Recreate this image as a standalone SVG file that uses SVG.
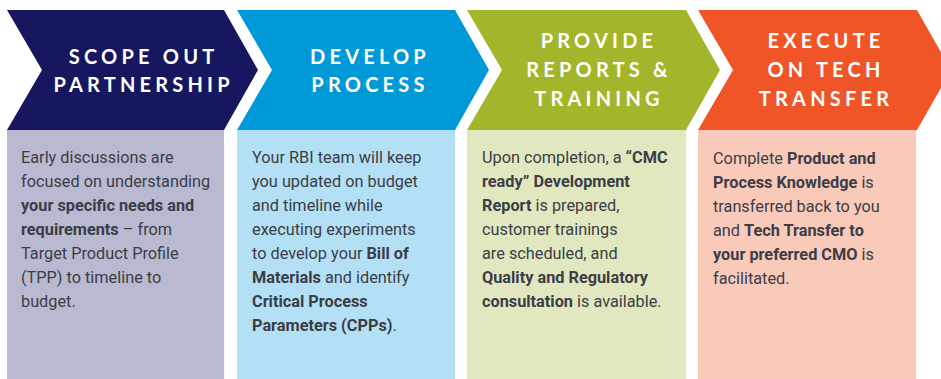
<svg xmlns="http://www.w3.org/2000/svg" width="941" height="379" viewBox="0 0 941 379">
<style>
.hd{font-family:Lato,"Liberation Sans",sans-serif;font-weight:700;font-size:20px;fill:#ffffff;letter-spacing:4.2px;text-anchor:middle}
.bd{font-family:Roboto,"Liberation Sans",sans-serif;font-size:16.3px;fill:#3b3d47}
.b{font-weight:700}
</style>
<rect width="941" height="379" fill="#ffffff"/>
<g id="step1">
<rect x="7" y="130" width="217" height="249" fill="#b9b9d1"/>
<polygon points="7,10 224,10 258,70 224,130 7,130 42,70" fill="#16175f"/>
<text class="hd"><tspan x="143.6" y="64">SCOPE OUT</tspan><tspan x="143.6" y="92">PARTNERSHIP</tspan></text>
<text class="bd"><tspan x="21" y="163">Early discussions are</tspan><tspan x="21" y="187">focused on understanding</tspan><tspan x="21" y="211" class="b">your specific needs and</tspan><tspan x="21" y="235"><tspan class="b">requirements</tspan> – from</tspan><tspan x="21" y="259">Target Product Profile</tspan><tspan x="21" y="283">(TPP) to timeline to</tspan><tspan x="21" y="307">budget.</tspan></text>
</g>
<g id="step2">
<rect x="237" y="130" width="218" height="249" fill="#b3e0f4"/>
<polygon points="237,10 455,10 489,70 455,130 237,130 272,70" fill="#0099d7"/>
<text class="hd"><tspan x="370" y="64">DEVELOP</tspan><tspan x="370" y="92">PROCESS</tspan></text>
<text class="bd"><tspan x="252" y="163">Your RBI team will keep</tspan><tspan x="252" y="187">you updated on budget</tspan><tspan x="252" y="211">and timeline while</tspan><tspan x="252" y="235">executing experiments</tspan><tspan x="252" y="259">to develop your <tspan class="b">Bill of</tspan></tspan><tspan x="252" y="283"><tspan class="b">Materials</tspan> and identify</tspan><tspan x="252" y="307" class="b">Critical Process</tspan><tspan x="252" y="331"><tspan class="b">Parameters (CPPs)</tspan>.</tspan></text>
</g>
<g id="step3">
<rect x="467" y="130" width="219" height="249" fill="#e1e8c0"/>
<polygon points="467,10 686,10 720,70 686,130 467,130 502,70" fill="#a3b52a"/>
<text class="hd"><tspan x="599" y="48">PROVIDE</tspan><tspan x="599" y="77">REPORTS &amp;</tspan><tspan x="599" y="106">TRAINING</tspan></text>
<text class="bd"><tspan x="482" y="163">Upon completion, a <tspan class="b">“CMC</tspan></tspan><tspan x="482" y="187" class="b">ready” Development</tspan><tspan x="482" y="211"><tspan class="b">Report</tspan> is prepared,</tspan><tspan x="482" y="235">customer trainings</tspan><tspan x="482" y="259">are scheduled, and</tspan><tspan x="482" y="283" class="b">Quality and Regulatory</tspan><tspan x="482" y="307"><tspan class="b">consultation</tspan> is available.</tspan></text>
</g>
<g id="step4">
<rect x="698" y="130" width="218" height="249" fill="#f9c9ba"/>
<polygon points="698,10 917,10 951,70 917,130 698,130 733,70" fill="#f05527"/>
<text class="hd"><tspan x="826" y="48">EXECUTE</tspan><tspan x="826" y="77">ON TECH</tspan><tspan x="826" y="106">TRANSFER</tspan></text>
<text class="bd"><tspan x="713" y="164">Complete <tspan class="b">Product and</tspan></tspan><tspan x="713" y="188"><tspan class="b">Process Knowledge</tspan> is</tspan><tspan x="713" y="212">transferred back to you</tspan><tspan x="713" y="236">and <tspan class="b">Tech Transfer to</tspan></tspan><tspan x="713" y="260"><tspan class="b">your preferred CMO</tspan> is</tspan><tspan x="713" y="284">facilitated.</tspan></text>
</g>
</svg>
